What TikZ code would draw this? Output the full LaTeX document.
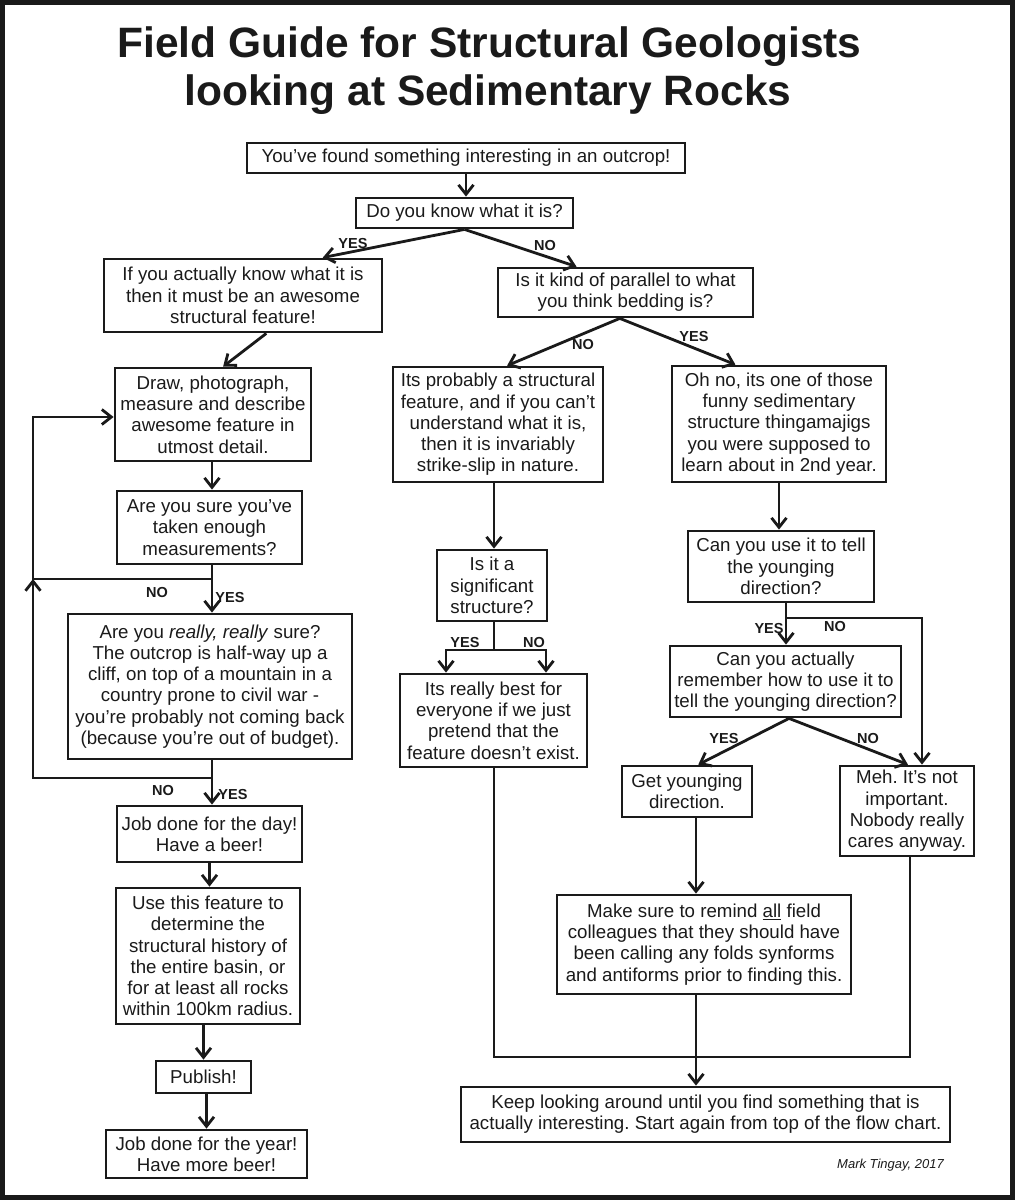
\documentclass[tikz,border=0pt]{standalone}
\usepackage{fontspec}
\setmainfont{Liberation Sans}
\usetikzlibrary{arrows.meta,calc}
\definecolor{ink}{HTML}{1A1A1A}
\frenchspacing
\begin{document}
\begin{tikzpicture}[x=1pt,y=-1pt,
  box/.style={draw=ink, line width=2.8pt, inner sep=0pt, align=center, text=ink,
    font=\fontsize{18.7}{21.3}\selectfont},
  lab/.style={text=ink, font=\bfseries\fontsize{14.5}{14.5}\selectfont, inner sep=0pt},
  con/.style={draw=ink, line width=2.8pt},
  arr/.style={con, -{Straight Barb[length=9.5pt,width=15pt]}},
  ttl/.style={text=ink, font=\bfseries\fontsize{42.5}{48}\selectfont, inner sep=0pt}]
\useasboundingbox (0,0) rectangle (1015,1200);
\draw[ink, line width=5pt] (2.5,2.5) rectangle (1012,1197.5);

% title
\node[ttl, anchor=base] (t1) at (489.5,57) {Field Guide for Structural Geologists};
\node[ttl, anchor=base] (t2) at (488,105) {looking at Sedimentary Rocks};

% boxes
\node[box, minimum width=438pt, minimum height=30pt] (n1) at (466,158) {You’ve found something interesting in an outcrop!};
\node[box, minimum width=217pt, minimum height=30pt] (n2) at (464.5,213) {Do you know what it is?};
\node[box, minimum width=278pt, minimum height=73pt] (n3) at (243,295.5) {If you actually know what it is\\then it must be an awesome\\structural feature!};
\node[box, minimum width=255pt, minimum height=49pt] (n4) at (625.5,292.5) {Is it kind of parallel to what\\you think bedding is?};
\node[box, minimum width=196pt, minimum height=93pt] (n5) at (213,414.5) {Draw, photograph,\\measure and describe\\awesome feature in\\utmost detail.};
\node[box, minimum width=210pt, minimum height=115pt] (n6) at (498,424.5) {Its probably a structural\\feature, and if you can’t\\understand what it is,\\then it is invariably\\strike-slip in nature.};
\node[box, minimum width=214pt, minimum height=116pt] (n7) at (779,424) {Oh no, its one of those\\funny sedimentary\\structure thingamajigs\\you were supposed to\\learn about in 2nd year.};
\node[box, minimum width=185pt, minimum height=73pt] (n8) at (209.5,527.5) {Are you sure you’ve\\taken enough\\measurements?};
\node[box, minimum width=284pt, minimum height=145pt] (n9) at (210,686.5) {Are you \textit{really, really} sure?\\The outcrop is half-way up a\\cliff, on top of a mountain in a\\country prone to civil war -\\you’re probably not coming back\\(because you’re out of budget).};
\node[box, minimum width=185pt, minimum height=56pt] (n10) at (209.5,834) {Job done for the day!\\Have a beer!};
\node[box, minimum width=184pt, minimum height=136pt] (n11) at (208,956) {Use this feature to\\determine the\\structural history of\\the entire basin, or\\for at least all rocks\\within 100km radius.};
\node[box, minimum width=95pt, minimum height=32pt] (n12) at (203.5,1077) {Publish!};
\node[box, minimum width=201pt, minimum height=48pt] (n13) at (206.5,1154) {Job done for the year!\\Have more beer!};
\node[box, minimum width=110pt, minimum height=71pt] (n14) at (492,585.5) {Is it a\\significant\\structure?};
\node[box, minimum width=187pt, minimum height=93pt] (n15) at (493.5,720.5) {Its really best for\\everyone if we just\\pretend that the\\feature doesn’t exist.};
\node[box, minimum width=186pt, minimum height=71pt] (n16) at (781,566.5) {Can you use it to tell\\the younging\\direction?};
\node[box, minimum width=231pt, minimum height=71pt] (n17) at (785.5,681.5) {Can you actually\\remember how to use it to\\tell the younging direction?};
\node[box, minimum width=130pt, minimum height=51pt] (n18) at (687,791.5) {Get younging\\direction.};
\node[box, minimum width=134pt, minimum height=90pt] (n19) at (907,811) {Meh. It’s not\\important.\\Nobody really\\cares anyway.};
\node[box, minimum width=294pt, minimum height=99pt] (n20) at (704,944.5) {Make sure to remind \underline{all} field\\colleagues that they should have\\been calling any folds synforms\\and antiforms prior to finding this.};
\node[box, minimum width=489pt, minimum height=55pt] (n21) at (705.5,1114.5) {Keep looking around until you find something that is\\actually interesting. Start again from top of the flow chart.};

% signature
\node[anchor=base east, inner sep=0pt, text=ink, font=\itshape\fontsize{13}{13}\selectfont] (sig) at (944,1168) {Mark Tingay, 2017};

% junction coordinates
\coordinate (j1) at (212,579);
\coordinate (j2) at (212,778);
\coordinate (lpA) at (33,579);
\coordinate (lpB) at (33,778);
\coordinate (lpT) at (33,417);
\coordinate (j3) at (494,650);
\coordinate (jL) at (446,650);
\coordinate (jR) at (546,650);
\coordinate (j4) at (786,618);
\coordinate (j4r) at (922,618);
\coordinate (b1) at (494,1057);
\coordinate (b2) at (696,1057);
\coordinate (b3) at (910,1057);

% connectors
\draw[arr] (n1.south) -- (n1.south |- n2.north);
\draw[arr] (n2.south) -- ($(n3.north west)!0.784!(n3.north east)$);
\draw[arr] (n2.south) -- ($(n4.north west)!0.31!(n4.north east)$);
\draw[arr] ($(n3.south west)!0.583!(n3.south east)$) -- ($(n5.north west)!0.551!(n5.north east)$);
\draw[arr] ($(n4.south west)!0.478!(n4.south east)$) -- ($(n6.north west)!0.543!(n6.north east)$);
\draw[arr] ($(n4.south west)!0.478!(n4.south east)$) -- ($(n7.north west)!0.299!(n7.north east)$);

\draw[arr] (n5.south -| j1) -- (n8.north -| j1);
\draw[arr] (n8.south -| j1) -- (j1) -- (lpA) -- (lpT) -- (n5.west |- lpT);
\draw[arr] (j1) -- (n9.north -| j1);
\draw[arr] (n9.south -| j2) -- (j2) -- (lpB) -- (lpA);
\draw[arr] (j2) -- (n10.north -| j2);
\draw[arr] (n10.south) -- (n10.south |- n11.north);
\draw[arr] (n11.south -| n12.north) -- (n12.north);
\draw[arr] (n13.north |- n12.south) -- (n13.north);

\draw[arr] (n6.south -| j3) -- (n14.north -| j3);
\draw[con] (n14.south -| j3) -- (j3);
\draw[arr] (j3) -- (jL) -- (n15.north -| jL);
\draw[arr] (j3) -- (jR) -- (n15.north -| jR);
\draw[con] (n15.south -| b1) -- (b1) -- (b3) -- (n19.south -| b3);

\draw[arr] (n7.south) -- (n7.south |- n16.north);
\draw[arr] (n16.south -| j4) -- (n17.north -| j4);
\draw[arr] (j4) -- (j4r) -- (n19.north -| j4r);
\draw[arr] ($(n17.south west)!0.515!(n17.south east)$) -- ($(n18.north west)!0.585!(n18.north east)$);
\draw[arr] ($(n17.south west)!0.515!(n17.south east)$) -- ($(n19.north west)!0.507!(n19.north east)$);
\draw[arr] (n18.south -| b2) -- (n20.north -| b2);
\draw[arr] (n20.south -| b2) -- (n21.north -| b2);

% labels
\node[lab] (l1) at (353,244) {YES};
\node[lab] (l2) at (545,246) {NO};
\node[lab] (l3) at (583,345) {NO};
\node[lab] (l4) at (694,337) {YES};
\node[lab] (l5) at (157,592) {NO};
\node[lab] (l6) at (230,597) {YES};
\node[lab] (l7) at (163,790) {NO};
\node[lab] (l8) at (233,794) {YES};
\node[lab] (l9) at (465,642) {YES};
\node[lab] (l10) at (534,642) {NO};
\node[lab] (l11) at (769,628) {YES};
\node[lab] (l12) at (835,626) {NO};
\node[lab] (l13) at (724,738) {YES};
\node[lab] (l14) at (868,738) {NO};
\end{tikzpicture}
\end{document}
